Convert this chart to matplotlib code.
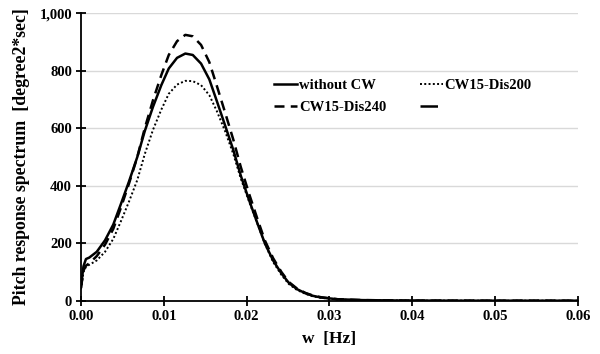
import numpy as np
import matplotlib.pyplot as plt
from matplotlib.lines import Line2D
from matplotlib.ticker import FuncFormatter

plt.rcParams['font.family'] = ['Liberation Serif', 'DejaVu Serif']
plt.rcParams['font.weight'] = 'bold'

# frequency [Hz]
w = [0.0, 0.0003, 0.0006, 0.001, 0.0019, 0.0029, 0.0039, 0.0048, 0.0058, 0.0068,
     0.0077, 0.0087, 0.0097, 0.0106, 0.0116, 0.0126, 0.0135, 0.0145, 0.0155, 0.0164,
     0.0174, 0.0184, 0.0193, 0.0203, 0.0213, 0.0222, 0.0232, 0.0242, 0.0251, 0.0261,
     0.0271, 0.028, 0.029, 0.031, 0.034, 0.039, 0.045, 0.05, 0.06]

without_cw = [50, 120, 145, 150, 170, 210, 265, 335, 415, 500,
              590, 675, 750, 808, 845, 860, 855, 825, 770, 695,
              610, 524, 435, 350, 270, 200, 140, 95, 62, 40,
              26, 17, 11, 5, 2, 0.5, 0.1, 0, 0]

cw15_dis200 = [40, 100, 118, 125, 140, 170, 215, 275, 345, 420,
               510, 595, 665, 720, 752, 765, 764, 750, 715, 660,
               590, 510, 425, 345, 268, 198, 135, 90, 58, 37,
               24, 15, 10, 4, 1.5, 0.4, 0.1, 0, 0]

cw15_dis240 = [45, 105, 122, 130, 155, 195, 250, 322, 408, 500,
               600, 698, 785, 855, 903, 925, 920, 890, 830, 748,
               655, 560, 465, 372, 285, 210, 148, 100, 65, 42,
               27, 18, 12, 5, 2, 0.5, 0.1, 0, 0]

fig = plt.figure(figsize=(6, 3.54), dpi=100)
ax = fig.add_axes([0.135, 0.1506, 0.828, 0.8118])

l1, = ax.plot(w, without_cw, color='black', lw=1.8, label='without CW')
l2, = ax.plot(w, cw15_dis200, color='black', lw=1.4, linestyle=(0, (1, 1.2)),
              label='CW15-Dis200')
l3, = ax.plot(w, cw15_dis240, color='black', lw=1.8, linestyle=(0, (4, 2.5)),
              label='CW15-Dis240')
l4 = Line2D([], [], color='black', lw=1.8, linestyle=(0, (7, 5)))

ax.set_xlim(0, 0.06)
ax.set_ylim(0, 1000)
ax.set_xticks(np.arange(0, 0.061, 0.01))
ax.set_yticks(np.arange(0, 1001, 200))
ax.xaxis.set_major_formatter(FuncFormatter(lambda v, p: f'{v:.2f}'))
ax.yaxis.set_major_formatter(FuncFormatter(lambda v, p: f'{v:,.0f}'))

ax.grid(axis='y', color='#d9d9d9', lw=1)
ax.set_axisbelow(True)
for s in ['top', 'right']:
    ax.spines[s].set_visible(False)
for s in ['left', 'bottom']:
    ax.spines[s].set_linewidth(1.3)
ax.tick_params(direction='inout', length=7, width=1.3, labelsize=10.5, pad=3)

ax.set_xlabel('w  [Hz]', fontsize=12.5, fontweight='bold', labelpad=6)
ax.set_ylabel('Pitch response spectrum  [degree2*sec]', fontsize=12.8,
              fontweight='bold', labelpad=7)

# legend fills column by column: order so rows read like the original
ax.legend([l1, l3, l2, l4], ['without CW', 'CW15-Dis240', 'CW15-Dis200', ''],
          ncol=2, frameon=False, fontsize=10.5, handlelength=1.6,
          handletextpad=0.1, columnspacing=2.3, labelspacing=0.6,
          loc='upper left', bbox_to_anchor=(0.362, 0.818))

fig.savefig('out.png', dpi=100)
